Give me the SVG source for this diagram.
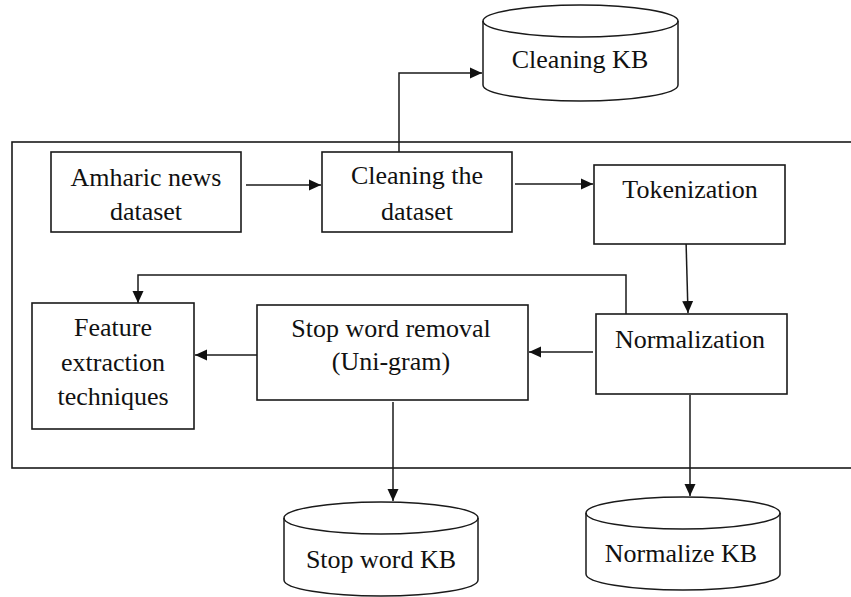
<svg xmlns="http://www.w3.org/2000/svg" width="851" height="597" viewBox="0 0 851 597">
  <style>
    .box { fill: #ffffff; stroke: #1a1a1a; stroke-width: 1.6; }
    .frame { fill: none; stroke: #1a1a1a; stroke-width: 1.6; }
    .cyl { fill: #ffffff; stroke: #1a1a1a; stroke-width: 1.5; }
    .cylrim { fill: none; stroke: #1a1a1a; stroke-width: 1.5; }
    .lbl { font-family: "Liberation Serif", "Times New Roman", serif; font-size: 26px; fill: #111111; text-anchor: middle; }
    .conn { fill: none; stroke: #1a1a1a; stroke-width: 1.5; }
  </style>
  <defs>
    <marker id="arrow" viewBox="0 0 12 12" refX="12" refY="6" markerWidth="12" markerHeight="12" markerUnits="userSpaceOnUse" orient="auto">
      <path d="M0,0.5 L12,6 L0,11.5 Z" fill="#111111"/>
    </marker>
  </defs>
  <rect width="851" height="597" fill="#ffffff"/>

  <rect id="frame" class="frame" x="12" y="142" width="850" height="326"/>

  <g id="connectors">
    <path class="conn" d="M399,152 V73 H482" marker-end="url(#arrow)"/>
    <path class="conn" d="M246,185 H321" marker-end="url(#arrow)"/>
    <path class="conn" d="M515,184 H593" marker-end="url(#arrow)"/>
    <path class="conn" d="M686,240 L688,313" marker-end="url(#arrow)"/>
    <path class="conn" d="M593,352 L529,352" marker-end="url(#arrow)"/>
    <path class="conn" d="M259,355 H195" marker-end="url(#arrow)"/>
    <path class="conn" d="M626,314 V275 H138 V303" marker-end="url(#arrow)"/>
    <path class="conn" d="M393,402 V501" marker-end="url(#arrow)"/>
    <path class="conn" d="M690,395 V496" marker-end="url(#arrow)"/>
  </g>

  <g id="cleaning-kb">
    <path class="cyl" d="M483,21 A97.5,16 0 0 1 678,21 L678,85 A97.5,16 0 0 1 483,85 Z"/>
    <path class="cylrim" d="M483,21 A97.5,16 0 0 0 678,21"/>
    <text class="lbl" x="580" y="68">Cleaning KB</text>
  </g>

  <g id="amharic">
    <rect class="box" x="51" y="152" width="190" height="80"/>
    <text class="lbl" x="146" y="186">Amharic news</text>
    <text class="lbl" x="146" y="220">dataset</text>
  </g>

  <g id="cleaning">
    <rect class="box" x="322" y="152" width="190" height="80"/>
    <text class="lbl" x="417" y="184">Cleaning the</text>
    <text class="lbl" x="417" y="220">dataset</text>
  </g>

  <g id="tokenization">
    <rect class="box" x="594" y="165" width="191" height="79"/>
    <text class="lbl" x="690" y="198">Tokenization</text>
  </g>

  <g id="normalization">
    <rect class="box" x="596" y="314" width="191" height="80"/>
    <text class="lbl" x="690" y="348">Normalization</text>
  </g>

  <g id="stopword">
    <rect class="box" x="257" y="305" width="271" height="95"/>
    <text class="lbl" x="391" y="337">Stop word removal</text>
    <text class="lbl" x="391" y="370">(Uni-gram)</text>
  </g>

  <g id="feature">
    <rect class="box" x="32" y="303" width="162" height="126"/>
    <text class="lbl" x="113" y="336">Feature</text>
    <text class="lbl" x="113" y="371">extraction</text>
    <text class="lbl" x="113" y="405">techniques</text>
  </g>

  <g id="stopword-kb">
    <path class="cyl" d="M284,518 A97,16 0 0 1 478,518 L478,580 A97,16 0 0 1 284,580 Z"/>
    <path class="cylrim" d="M284,518 A97,16 0 0 0 478,518"/>
    <text class="lbl" x="381" y="568">Stop word KB</text>
  </g>

  <g id="normalize-kb">
    <path class="cyl" d="M586,513 A97,16 0 0 1 780,513 L780,574 A97,16 0 0 1 586,574 Z"/>
    <path class="cylrim" d="M586,513 A97,16 0 0 0 780,513"/>
    <text class="lbl" x="681" y="562">Normalize KB</text>
  </g>
</svg>
